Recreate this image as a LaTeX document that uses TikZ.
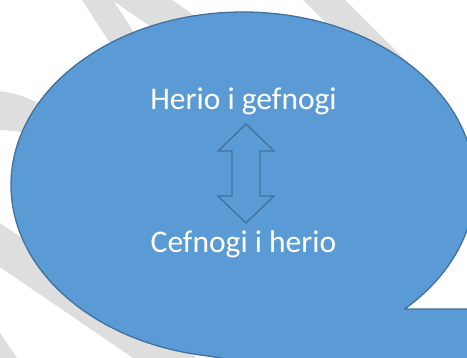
\documentclass[tikz,border=0pt]{standalone}
\usepackage{fontspec}
\setmainfont{Carlito}
\usetikzlibrary{calc}

\definecolor{bubbleblue}{RGB}{91,155,213}
\definecolor{bubbleline}{RGB}{65,113,156}
\definecolor{stripegray}{RGB}{222,222,222}

\tikzset{
    stripe/.style={fill=stripegray},
    bubble/.style={fill=bubbleblue, draw=bubbleline, line width=1.3pt, line join=round},
    blockarrow/.style={fill=bubbleblue, draw=bubbleline, line width=1.3pt, line join=miter},
    bubbletext/.style={text=white, font=\fontsize{31.5}{38}\selectfont, inner sep=0pt, anchor=base}
}

\begin{document}
\begin{tikzpicture}[x=1pt, y=1pt]
            \useasboundingbox (0, 0) rectangle (467, 358);
            \clip (0, 0) rectangle (467, 358);
            \fill[white] (0, 0) rectangle (467, 358);

            % grey bands behind the bubble
            \fill[stripe] (82, 358) -- (113, 358) -- (158.5, 288) -- (127.5, 288) -- cycle;
            \fill[stripe] (112, 358) -- (172, 358) -- (259, 298) -- (199, 298) -- cycle;
            \fill[stripe] (303, 358) -- (345, 358) -- (435, 268) -- (393, 268) -- cycle;
            \fill[stripe] (-5, 267) .. controls (15, 266) and (30, 260) .. (50, 248)
                -- (50, 218) .. controls (30, 225) and (15, 228) .. (-5, 228) -- cycle;
            \fill[stripe] (0, 135) -- (0, 91) -- (133, 0) -- (197, 0) -- cycle;
            \fill[stripe] (0, 25) -- (17, 0) -- (0, 0) -- cycle;

            % the callout
            \coordinate (c) at (243, 173);
            \path[bubble] ($(c)+(-45.8:232pt and 173pt)$)
                arc[start angle=-45.8, end angle=261.1, x radius=232pt, y radius=173pt]
                -- (600, -60) -- (600, 49) -- cycle;

            \node[bubbletext] (challenge) at (243.5, 248) {Herio i gefnogi};
            \node[bubbletext] (support) at (243.5, 105) {Cefnogi i herio};

            \coordinate (swap) at (246, 184.5);
            \draw[blockarrow] ($(swap)+(0, 49.5)$) -- ++(28, -27) -- ++(-14, 0) -- ++(0, -45)
                -- ++(14, 0) -- ++(-28, -27) -- ++(-28, 27) -- ++(14, 0) -- ++(0, 45)
                -- ++(-14, 0) -- cycle;
        \end{tikzpicture}
\end{document}
